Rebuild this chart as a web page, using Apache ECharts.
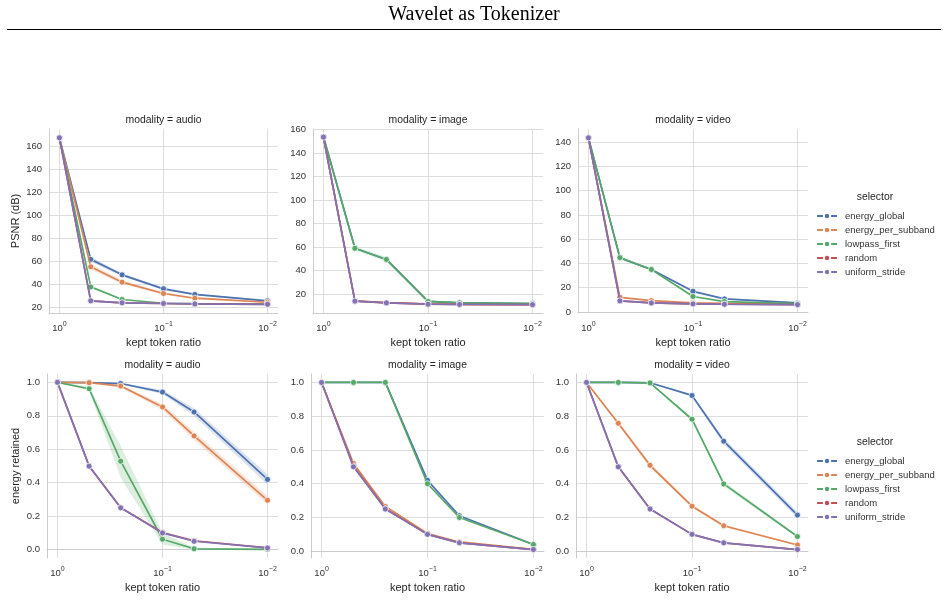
<!DOCTYPE html>
<html>
<head>
<meta charset="utf-8">
<title>Wavelet as Tokenizer</title>
<script src="https://cdn.jsdelivr.net/npm/echarts@6/dist/echarts.min.js"></script>
<style>
  html, body { margin: 0; padding: 0; background: #fff; }
  #chart { width: 948px; height: 600px; }
</style>
</head>
<body>
<div id="chart"></div>
<script>
const ratios = [1, 0.5, 0.25, 0.1, 0.05, 0.01];
const selectors = ['energy_global', 'energy_per_subband', 'lowpass_first', 'random', 'uniform_stride'];
const colors = ['#4c72b0', '#dd8452', '#55a868', '#c44e52', '#8172b3'];
const modalities = ['audio', 'image', 'video'];

// PSNR (dB) - audio
const psnrAudioGlobal = [167.6, 61.5, 48.0, 35.8, 30.9, 25.3];
const psnrAudioSubband = [167.6, 55.0, 41.6, 31.7, 27.6, 24.1];
const psnrAudioLowpass = [167.6, 37.5, 26.5, 23.2, 22.8, 22.5];
const psnrAudioRandom = [167.6, 25.3, 23.6, 23.0, 22.6, 22.3];
const psnrAudioStride = [167.6, 25.3, 23.6, 23.0, 22.6, 22.3];
// PSNR (dB) - image
const psnrImageGlobal = [153.7, 59.0, 49.5, 13.8, 12.6, 12.0];
const psnrImageSubband = [153.7, 14.3, 12.7, 11.6, 11.3, 11.0];
const psnrImageLowpass = [153.7, 59.0, 49.5, 13.8, 12.6, 12.0];
const psnrImageRandom = [153.7, 14.0, 12.5, 11.4, 11.2, 11.0];
const psnrImageStride = [153.7, 14.0, 12.5, 11.4, 11.2, 11.0];
// PSNR (dB) - video
const psnrVideoGlobal = [143.6, 44.5, 35.0, 17.0, 10.7, 7.4];
const psnrVideoSubband = [143.6, 12.0, 9.3, 7.5, 7.0, 6.3];
const psnrVideoLowpass = [143.6, 44.8, 35.0, 12.7, 8.5, 6.8];
const psnrVideoRandom = [143.6, 9.1, 7.4, 6.6, 6.3, 6.0];
const psnrVideoStride = [143.6, 9.1, 7.4, 6.6, 6.3, 6.0];

// energy retained - audio
const energyAudioGlobal = [1.0, 0.999, 0.993, 0.942, 0.823, 0.42];
const energyAudioSubband = [1.0, 0.998, 0.978, 0.853, 0.68, 0.295];
const energyAudioLowpass = [1.0, 0.962, 0.529, 0.062, 0.005, 0.002];
const energyAudioRandom = [1.0, 0.5, 0.25, 0.102, 0.053, 0.01];
const energyAudioStride = [1.0, 0.499, 0.25, 0.1, 0.05, 0.01];
// energy retained - image
const energyImageGlobal = [1.0, 1.0, 1.0, 0.42, 0.21, 0.04];
const energyImageSubband = [1.0, 0.52, 0.265, 0.105, 0.055, 0.012];
const energyImageLowpass = [1.0, 1.0, 1.0, 0.40, 0.20, 0.04];
const energyImageRandom = [1.0, 0.505, 0.252, 0.1, 0.05, 0.01];
const energyImageStride = [1.0, 0.5, 0.25, 0.1, 0.05, 0.01];
// energy retained - video
const energyVideoGlobal = [1.0, 1.0, 0.998, 0.923, 0.652, 0.214];
const energyVideoSubband = [1.0, 0.758, 0.509, 0.267, 0.151, 0.037];
const energyVideoLowpass = [1.0, 1.0, 0.997, 0.782, 0.399, 0.087];
const energyVideoRandom = [1.0, 0.5, 0.25, 0.1, 0.05, 0.01];
const energyVideoStride = [1.0, 0.5, 0.25, 0.1, 0.05, 0.01];

// confidence bands (lower / upper)
const psnrAudioGlobalLo = [167.6, 59.5, 46.5, 34.8, 30.0, 24.6];
const psnrAudioGlobalHi = [167.6, 63.5, 49.5, 36.8, 31.8, 26.0];
const psnrAudioSubbandLo = [167.6, 52.5, 40.0, 30.6, 26.8, 23.4];
const psnrAudioSubbandHi = [167.6, 57.5, 43.2, 32.8, 28.4, 24.8];
const psnrAudioStrideLo = [167.6, 24.3, 22.8, 22.3, 22.0, 21.7];
const psnrAudioStrideHi = [167.6, 26.3, 24.4, 23.7, 23.2, 22.9];
const psnrImageLowpassLo = [153.7, 57.5, 47.5, 13.0, 12.0, 11.5];
const psnrImageLowpassHi = [153.7, 60.5, 51.5, 14.6, 13.2, 12.5];
const psnrVideoGlobalLo = [143.6, 43.5, 34.2, 16.4, 10.2, 7.0];
const psnrVideoGlobalHi = [143.6, 45.5, 35.8, 17.6, 11.2, 7.8];
const psnrVideoStrideLo = [143.6, 8.3, 6.6, 5.8, 5.5, 5.2];
const psnrVideoStrideHi = [143.6, 9.9, 8.2, 7.4, 7.1, 6.8];
const energyAudioGlobalLo = [1.0, 0.998, 0.988, 0.93, 0.80, 0.39];
const energyAudioGlobalHi = [1.0, 1.0, 0.998, 0.955, 0.845, 0.45];
const energyAudioSubbandLo = [1.0, 0.996, 0.97, 0.835, 0.655, 0.27];
const energyAudioSubbandHi = [1.0, 1.0, 0.986, 0.87, 0.705, 0.32];
const energyAudioLowpassLo = [1.0, 0.95, 0.43, 0.03, 0.0, 0.0];
const energyAudioLowpassHi = [1.0, 0.975, 0.62, 0.10, 0.012, 0.005];
const energyVideoGlobalLo = [1.0, 1.0, 0.996, 0.915, 0.635, 0.195];
const energyVideoGlobalHi = [1.0, 1.0, 1.0, 0.93, 0.67, 0.232];
const energyVideoSubbandLo = [1.0, 0.745, 0.495, 0.257, 0.143, 0.032];
const energyVideoSubbandHi = [1.0, 0.77, 0.523, 0.277, 0.159, 0.042];
const energyVideoLowpassLo = [1.0, 1.0, 0.995, 0.772, 0.385, 0.08];
const energyVideoLowpassHi = [1.0, 1.0, 0.999, 0.792, 0.413, 0.094];

const FONT = '"Liberation Sans", Arial, sans-serif';

// one entry per facet: [left, top, width, height], y range and tick step
const panels = [
  { rect: [49, 129, 229, 184], y: [14.7, 175.3, 20], yName: 'PSNR (dB)', row: 0, col: 0,
    lines: [psnrAudioGlobal, psnrAudioSubband, psnrAudioLowpass, psnrAudioRandom, psnrAudioStride],
    bands: [[0, psnrAudioGlobalLo, psnrAudioGlobalHi], [1, psnrAudioSubbandLo, psnrAudioSubbandHi], [4, psnrAudioStrideLo, psnrAudioStrideHi]] },
  { rect: [313, 129, 230, 184], y: [3.9, 160.6, 20], row: 0, col: 1,
    lines: [psnrImageGlobal, psnrImageSubband, psnrImageLowpass, psnrImageRandom, psnrImageStride],
    bands: [[2, psnrImageLowpassLo, psnrImageLowpassHi]] },
  { rect: [578, 129, 230, 184], y: [-0.9, 150.9, 20], row: 0, col: 2,
    lines: [psnrVideoGlobal, psnrVideoSubband, psnrVideoLowpass, psnrVideoRandom, psnrVideoStride],
    bands: [[0, psnrVideoGlobalLo, psnrVideoGlobalHi], [4, psnrVideoStrideLo, psnrVideoStrideHi]] },
  { rect: [47, 374, 231, 184], y: [-0.05, 1.05, 0.2], yName: 'energy retained', row: 1, col: 0,
    lines: [energyAudioGlobal, energyAudioSubband, energyAudioLowpass, energyAudioRandom, energyAudioStride],
    bands: [[0, energyAudioGlobalLo, energyAudioGlobalHi], [1, energyAudioSubbandLo, energyAudioSubbandHi], [2, energyAudioLowpassLo, energyAudioLowpassHi]] },
  { rect: [311, 374, 233, 184], y: [-0.04, 1.05, 0.2], row: 1, col: 1,
    lines: [energyImageGlobal, energyImageSubband, energyImageLowpass, energyImageRandom, energyImageStride],
    bands: [] },
  { rect: [576, 374, 232, 184], y: [-0.04, 1.05, 0.2], row: 1, col: 2,
    lines: [energyVideoGlobal, energyVideoSubband, energyVideoLowpass, energyVideoRandom, energyVideoStride],
    bands: [[0, energyVideoGlobalLo, energyVideoGlobalHi], [1, energyVideoSubbandLo, energyVideoSubbandHi], [2, energyVideoLowpassLo, energyVideoLowpassHi]] },
];

function hexA(hex, a) {
  const n = parseInt(hex.slice(1), 16);
  return 'rgba(' + (n >> 16) + ',' + ((n >> 8) & 255) + ',' + (n & 255) + ',' + a + ')';
}

function logLabel(v) {
  const e = Math.log10(v);
  const r = Math.round(e);
  if (Math.abs(e - r) > 1e-6) return '';
  return '{b|10}{s|' + (r < 0 ? '\u2212' + (-r) : r) + '}';
}

// shaded band between lo and hi, placed through the axes' own scales
function bandRenderer(lo, hi, fill) {
  return function (params, api) {
    const upper = ratios.map((r, i) => api.coord([r, hi[i]]));
    const lower = ratios.map((r, i) => api.coord([r, lo[i]])).reverse();
    return { type: 'polygon', silent: true, shape: { points: upper.concat(lower) }, style: { fill: fill } };
  };
}

const grids = [], xAxes = [], yAxes = [], series = [], graphics = [];

panels.forEach((p, k) => {
  grids.push({ left: p.rect[0], top: p.rect[1], width: p.rect[2], height: p.rect[3], containLabel: false });
  xAxes.push({
    type: 'log', logBase: 10, gridIndex: k, inverse: true,
    min: Math.pow(10, -2.1), max: Math.pow(10, 0.1),
    name: 'kept token ratio', nameLocation: 'middle', nameGap: 24,
    nameTextStyle: { fontFamily: FONT, fontSize: 11, color: '#262626' },
    axisLine: { show: true, lineStyle: { color: '#cccccc', width: 1 } },
    axisTick: { show: false },
    splitLine: { show: true, showMinLine: false, showMaxLine: false, lineStyle: { color: '#dedede', width: 1 } },
    axisLabel: {
      showMinLabel: false, showMaxLabel: false, margin: 8,
      formatter: logLabel,
      rich: {
        b: { fontFamily: FONT, fontSize: 9.5, color: '#333', lineHeight: 12, verticalAlign: 'bottom' },
        s: { fontFamily: FONT, fontSize: 7, color: '#333', lineHeight: 8, verticalAlign: 'top', padding: [0, 0, 7, 0] }
      }
    }
  });
  const step = p.y[2];
  yAxes.push({
    type: 'value', gridIndex: k, min: p.y[0], max: p.y[1],
    minInterval: step, maxInterval: step,
    name: p.yName || '', nameLocation: 'middle', nameGap: p.row === 0 ? 28 : 26,
    nameTextStyle: { fontFamily: FONT, fontSize: 11, color: '#262626' },
    axisLine: { show: true, lineStyle: { color: '#cccccc', width: 1 } },
    axisTick: { show: false },
    splitLine: { show: true, showMinLine: false, showMaxLine: false, lineStyle: { color: '#dedede', width: 1 } },
    axisLabel: {
      showMinLabel: false, showMaxLabel: false, margin: 7,
      fontFamily: FONT, fontSize: 9.5, color: '#333',
      formatter: v => step < 1 ? v.toFixed(1) : String(Math.round(v))
    }
  });

  p.bands.forEach(([si, lo, hi]) => {
    series.push({
      type: 'custom', xAxisIndex: k, yAxisIndex: k, silent: true, z: 1,
      renderItem: bandRenderer(lo, hi, hexA(colors[si], 0.2)),
      data: [[ratios[0], hi[0]]]
    });
  });

  p.lines.forEach((vals, si) => {
    series.push({
      name: selectors[si], type: 'line', xAxisIndex: k, yAxisIndex: k, z: 3 + si,
      color: colors[si],
      symbol: 'circle', symbolSize: 6,
      itemStyle: { color: colors[si], borderColor: '#fff', borderWidth: 0.7 },
      lineStyle: { color: colors[si], width: 1.7 },
      data: ratios.map((r, i) => [r, vals[i]])
    });
  });

  const cx = p.rect[0] + p.rect[2] / 2;
  graphics.push({
    type: 'text', x: cx, y: p.row === 0 ? 120 : 365,
    style: { text: 'modality = ' + modalities[p.col], fontFamily: FONT, fontSize: 10.4, fill: '#262626',
      textAlign: 'center', textVerticalAlign: 'middle' }
  });
});

graphics.push({
  type: 'text', x: 474, y: 15,
  style: { text: 'Wavelet as Tokenizer', fontFamily: '"Liberation Serif", "Times New Roman", serif',
    fontSize: 20, fill: '#000', textAlign: 'center', textVerticalAlign: 'middle' }
});
graphics.push({
  type: 'line', shape: { x1: 7, y1: 29.5, x2: 941, y2: 29.5 }, style: { stroke: '#000', lineWidth: 1 }
});
[197, 442].forEach(y => graphics.push({
  type: 'text', x: 875, y: y,
  style: { text: 'selector', fontFamily: FONT, fontSize: 10.4, fill: '#262626', textAlign: 'center', textVerticalAlign: 'middle' }
}));

const legendBase = {
  data: selectors, orient: 'vertical', left: 811, itemWidth: 20, itemHeight: 8, itemGap: 2,
  selectedMode: false,
  textStyle: { fontFamily: FONT, fontSize: 9.5, color: '#333', lineHeight: 12, padding: [0, 0, 0, 3] }
};

const chart = echarts.init(document.getElementById('chart'), null, { renderer: 'canvas' });
chart.setOption({
  backgroundColor: '#fff',
  animation: false,
  grid: grids,
  xAxis: xAxes,
  yAxis: yAxes,
  legend: [
    Object.assign({}, legendBase, { top: 205 }),
    Object.assign({}, legendBase, { top: 450 })
  ],
  graphic: graphics,
  series: series
});
</script>
</body>
</html>
